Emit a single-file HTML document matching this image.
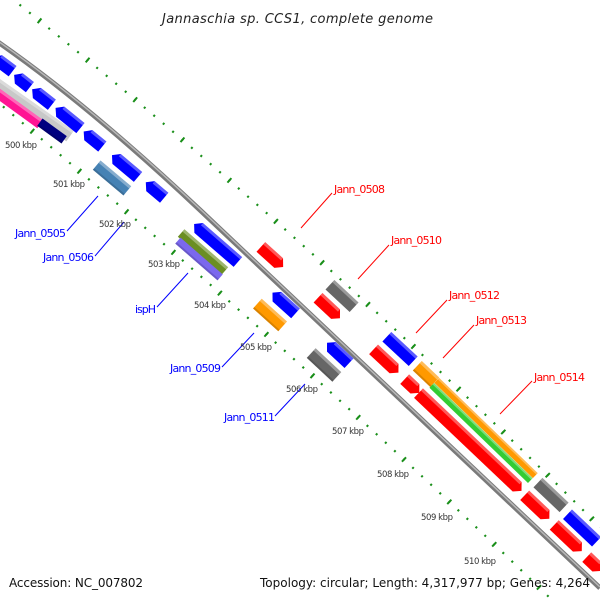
<!DOCTYPE html>
<html><head><meta charset="utf-8"><style>
html,body{margin:0;padding:0;background:#fff;width:600px;height:600px;overflow:hidden;}
svg{display:block;overflow:hidden;}
.t{font-family:"DejaVu Sans","Liberation Sans",sans-serif;}
.hl{fill:#fff;opacity:.35}
.sh{fill:#000;opacity:.15}
</style></head><body>
<svg width="600" height="600" viewBox="0 0 600 600" xmlns="http://www.w3.org/2000/svg">
<defs><clipPath id="c"><rect width="600" height="600"/></clipPath></defs>
<rect width="600" height="600" fill="#fff"/>
<g clip-path="url(#c)">
<g fill="none" stroke="#1a8f1a">
<path d="M10,-3 Q310,237 600,527" stroke-width="2.2" stroke-dasharray="2 10.4" stroke-dashoffset="0.2"/>
<path d="M10,-3 Q310,237 600,527" stroke-width="6" stroke-dasharray="2 60" stroke-dashoffset="25"/>
<path d="M0,104 Q306.7,361.5 552,600" stroke-width="2.2" stroke-dasharray="2 10.4" stroke-dashoffset="8.6"/>
<path d="M0,104 Q306.7,361.5 552,600" stroke-width="6" stroke-dasharray="2 60" stroke-dashoffset="21"/>
</g>
<path d="M-5,40 C60,85 130,144 200,210 L600,588" fill="none" stroke="#7a7a7a" stroke-width="5"/>
<path d="M-5,39 C60,84 130,143 200,209 L600,587" fill="none" stroke="#b8b8b8" stroke-width="1.5"/>

<g transform="translate(25,104.5) rotate(35)"><rect x="-55" y="-6.5" width="110" height="13" fill="#c8c8c8"/><rect x="-55" y="-6.5" width="110" height="3" class="hl"/></g>
<g transform="translate(18,108) rotate(36)"><rect x="-27.5" y="-5" width="55" height="10" fill="#ff1493"/><rect x="-27.5" y="-5" width="55" height="3" class="hl"/></g>
<g transform="translate(52,131) rotate(36)"><rect x="-15" y="-4.5" width="30" height="9" fill="#000080"/><rect x="-15" y="2.5" width="30" height="2" class="sh"/></g>

<g fill="#0000ff">
<g transform="translate(3,64) rotate(37)"><polygon points="-12,0 -6,-6.5 12,-6.5 12,6.5 -6,6.5"/><rect x="-6" y="-6.5" width="18" height="3" class="hl"/></g>
<g transform="translate(22,81) rotate(38)"><polygon points="-10,0 -4,-6.5 10,-6.5 10,6.5 -4,6.5"/><rect x="-4" y="-6.5" width="14" height="3" class="hl"/></g>
<g transform="translate(42,97) rotate(38)"><polygon points="-12.5,0 -6.5,-6.5 12.5,-6.5 12.5,6.5 -6.5,6.5"/><rect x="-6.5" y="-6.5" width="19" height="3" class="hl"/></g>
<g transform="translate(68,118) rotate(39)"><polygon points="-16,0 -10,-6.5 16,-6.5 16,6.5 -10,6.5"/><rect x="-10" y="-6.5" width="26" height="3" class="hl"/></g>
<g transform="translate(93,139) rotate(39)"><polygon points="-12,0 -6,-6.5 12,-6.5 12,6.5 -6,6.5"/><rect x="-6" y="-6.5" width="18" height="3" class="hl"/></g>
<g transform="translate(125,166) rotate(40)"><polygon points="-17,0 -11,-6.5 17,-6.5 17,6.5 -11,6.5"/><rect x="-11" y="-6.5" width="28" height="3" class="hl"/></g>
<g transform="translate(155,190) rotate(40)"><polygon points="-12,0 -6,-6.5 12,-6.5 12,6.5 -6,6.5"/><rect x="-6" y="-6.5" width="18" height="3" class="hl"/></g>
<g transform="translate(216,243) rotate(41)"><polygon points="-29,0 -23,-6.5 29,-6.5 29,6.5 -23,6.5"/><rect x="-23" y="-6.5" width="52" height="3" class="hl"/></g>
<g transform="translate(284,303) rotate(42)"><polygon points="-15.5,0 -9.5,-6.5 15.5,-6.5 15.5,6.5 -9.5,6.5"/><rect x="-9.5" y="-6.5" width="25" height="3" class="hl"/></g>
<g transform="translate(338,353) rotate(43)"><polygon points="-15,0 -9,-6.5 15,-6.5 15,6.5 -9,6.5"/><rect x="-9" y="-6.5" width="24" height="3" class="hl"/></g>
</g>

<g transform="translate(112,178) rotate(40)"><rect x="-20" y="-6" width="40" height="12" fill="#4682b4"/><rect x="-20" y="-6" width="40" height="3" class="hl"/><rect x="-20" y="4" width="40" height="2" class="sh"/></g>
<g transform="translate(203,252) rotate(41)"><rect x="-29" y="-5" width="58" height="10" fill="#6b8e23"/><rect x="-29" y="-5" width="58" height="3" class="hl"/></g>
<g transform="translate(199,259) rotate(41)"><rect x="-28" y="-4" width="56" height="8" fill="#7b68ee"/><rect x="-28" y="2" width="56" height="2" class="sh"/></g>
<g transform="translate(270,315) rotate(42)"><rect x="-17" y="-6.5" width="34" height="13" fill="#ff9900"/><rect x="-17" y="-6.5" width="34" height="3" class="hl"/><rect x="-17" y="4.5" width="34" height="2" class="sh"/></g>
<g transform="translate(324,365) rotate(43)"><rect x="-17.5" y="-6.5" width="35" height="13" fill="#666"/><rect x="-17.5" y="-6.5" width="35" height="3" class="hl"/><rect x="-17.5" y="4.5" width="35" height="2" class="sh"/></g>

<g fill="#ff0000">
<g transform="translate(272,257) rotate(42)"><polygon points="-15,-6.5 9,-6.5 15,0 9,6.5 -15,6.5"/><rect x="-15" y="-6.5" width="24" height="3" class="hl"/></g>
<g transform="translate(329,308) rotate(43)"><polygon points="-15,-6.5 9,-6.5 15,0 9,6.5 -15,6.5"/><rect x="-15" y="-6.5" width="24" height="3" class="hl"/></g>
<g transform="translate(386,361) rotate(43)"><polygon points="-17,-6.5 11,-6.5 17,0 11,6.5 -17,6.5"/><rect x="-17" y="-6.5" width="28" height="3" class="hl"/></g>
<g transform="translate(412,386) rotate(43)"><polygon points="-10,-6.5 4,-6.5 10,0 4,6.5 -10,6.5"/><rect x="-10" y="-6.5" width="14" height="3" class="hl"/></g>
<g transform="translate(470,442) rotate(43.5)"><polygon points="-71,-6.5 65,-6.5 71,0 65,6.5 -71,6.5"/><rect x="-71" y="-6.5" width="136" height="3" class="hl"/></g>
<g transform="translate(537,507) rotate(43.5)"><polygon points="-17,-6.5 11,-6.5 17,0 11,6.5 -17,6.5"/><rect x="-17" y="-6.5" width="28" height="3" class="hl"/></g>
<g transform="translate(568,538) rotate(43.5)"><polygon points="-19,-6.5 13,-6.5 19,0 13,6.5 -19,6.5"/><rect x="-19" y="-6.5" width="32" height="3" class="hl"/></g>
<g transform="translate(594,564) rotate(43.5)"><polygon points="-10,-6.5 4,-6.5 10,0 4,6.5 -10,6.5"/><rect x="-10" y="-6.5" width="14" height="3" class="hl"/></g>
</g>
<g transform="translate(342,296) rotate(43)"><rect x="-16.5" y="-6.5" width="33" height="13" fill="#666"/><rect x="-16.5" y="-6.5" width="33" height="3" class="hl"/></g>
<g transform="translate(400,349) rotate(43)"><rect x="-18" y="-6.5" width="36" height="13" fill="#0000ff"/><rect x="-18" y="-6.5" width="36" height="3" class="hl"/></g>
<g transform="translate(426,374) rotate(43.5)"><rect x="-12" y="-6.5" width="24" height="13" fill="#ff9900"/><rect x="-12" y="-6.5" width="24" height="3" class="hl"/><rect x="-12" y="4.5" width="24" height="2" class="sh"/></g>
<g transform="translate(486,428) rotate(44)"><rect x="-68.5" y="-3.5" width="137" height="7" fill="#ff9900"/><rect x="-68.5" y="-3.5" width="137" height="2" class="hl"/></g>
<g transform="translate(481,433) rotate(44)"><rect x="-68.5" y="-3.3" width="137" height="6.6" fill="#33cc33"/><rect x="-68.5" y="-3.3" width="137" height="2" class="hl"/></g>
<g transform="translate(551,495) rotate(43.5)"><rect x="-18" y="-6.5" width="36" height="13" fill="#666"/><rect x="-18" y="-6.5" width="36" height="3" class="hl"/></g>
<g transform="translate(582,528) rotate(43.5)"><rect x="-20" y="-6.5" width="40" height="13" fill="#0000ff"/><rect x="-20" y="-6.5" width="40" height="3" class="hl"/></g>
</g>

<g stroke="#0000ff" stroke-width="1">
<line x1="67" y1="231" x2="98" y2="196"/>
<line x1="95" y1="256" x2="124" y2="222"/>
<line x1="157" y1="307" x2="188" y2="273"/>
<line x1="222" y1="367" x2="254" y2="333"/>
<line x1="275" y1="416" x2="305" y2="384"/>
</g>
<g stroke="#ff0000" stroke-width="1">
<line x1="332" y1="193" x2="301" y2="228"/>
<line x1="389" y1="245" x2="358" y2="279"/>
<line x1="447" y1="300" x2="416" y2="333"/>
<line x1="474" y1="325" x2="443" y2="358"/>
<line x1="532" y1="381" x2="500" y2="414"/>
</g>

<g class="t" font-size="11" fill="#0000ff">
<text x="15" y="237" textLength="51">Jann_0505</text>
<text x="43" y="261" textLength="51">Jann_0506</text>
<text x="135" y="313" textLength="21">ispH</text>
<text x="170" y="372" textLength="51">Jann_0509</text>
<text x="224" y="421" textLength="51">Jann_0511</text>
</g>
<g class="t" font-size="11" fill="#ff0000">
<text x="334" y="193" textLength="51">Jann_0508</text>
<text x="391" y="244" textLength="51">Jann_0510</text>
<text x="449" y="299" textLength="51">Jann_0512</text>
<text x="476" y="324" textLength="51">Jann_0513</text>
<text x="534" y="381" textLength="51">Jann_0514</text>
</g>

<g class="t" font-size="8.5" fill="#333">
<text x="5" y="148" textLength="32">500 kbp</text>
<text x="53" y="187" textLength="32">501 kbp</text>
<text x="99" y="227" textLength="32">502 kbp</text>
<text x="148" y="267" textLength="32">503 kbp</text>
<text x="194" y="308" textLength="32">504 kbp</text>
<text x="240" y="350" textLength="32">505 kbp</text>
<text x="286" y="392" textLength="32">506 kbp</text>
<text x="332" y="434" textLength="32">507 kbp</text>
<text x="377" y="477" textLength="32">508 kbp</text>
<text x="421" y="520" textLength="32">509 kbp</text>
<text x="464" y="564" textLength="32">510 kbp</text>
</g>

<text class="t" x="162" y="23" font-size="13" font-style="italic" fill="#222" textLength="271">Jannaschia sp. CCS1, complete genome</text>
<text class="t" x="9" y="587" font-size="12" fill="#111" textLength="134">Accession: NC_007802</text>
<text class="t" x="260" y="587" font-size="12" fill="#111" textLength="330">Topology: circular; Length: 4,317,977 bp; Genes: 4,264</text>
</svg>
</body></html>
